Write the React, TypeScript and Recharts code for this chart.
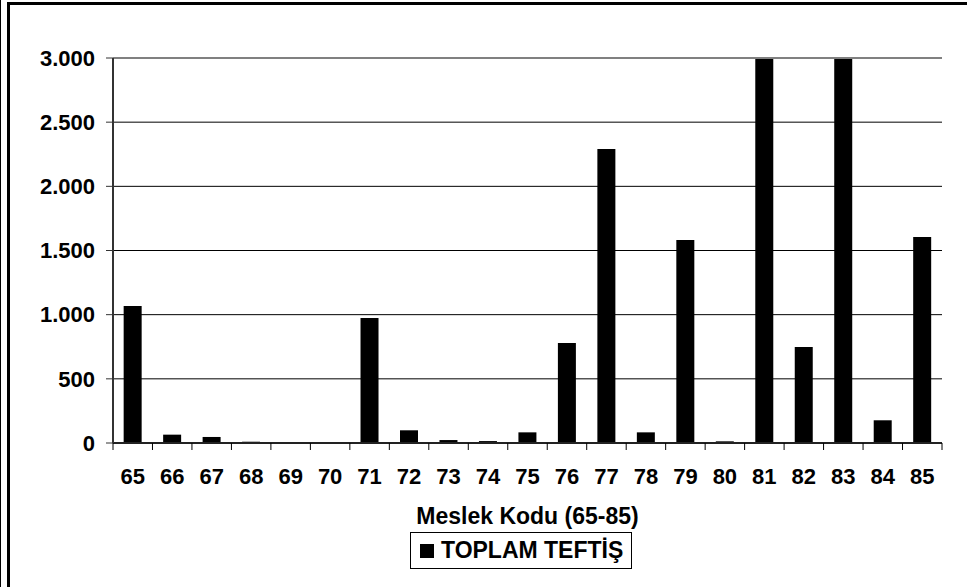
import React from 'react';
import { BarChart, Bar, XAxis, YAxis, CartesianGrid, ReferenceLine } from 'recharts';

// --- data ---
const kodlar = ['65', '66', '67', '68', '69', '70', '71', '72', '73', '74', '75', '76', '77', '78', '79', '80', '81', '82', '83', '84', '85'];
const toplamTeftis = [1067, 65, 47, 10, 0, 0, 974, 99, 23, 15, 83, 780, 2290, 83, 1582, 13, 3050, 748, 3050, 177, 1605];
const yTicks = [0, 500, 1000, 1500, 2000, 2500, 3000];

const data = kodlar.map((kod, i) => ({ kod, toplam: toplamTeftis[i] }));

const W = 967;
const H = 587;
const M = { top: 58, right: 25, left: 13, bottom: 54 };
const Y_W = 100;
const PLOT_W = W - M.left - Y_W - M.right;
const BAND = PLOT_W / kodlar.length;
const FONT = '"Liberation Sans", Arial, sans-serif';

const fmt = (v: number) => v.toLocaleString('de-DE');

// tick marks sit between categories, like the Excel original
const XTick = (props: any) => {
  const { x, y, payload, index } = props;
  const left = x - BAND / 2;
  return (
    <g>
      <line x1={left} x2={left} y1={y} y2={y + 7} stroke="#000" />
      {index === kodlar.length - 1 && (
        <line x1={x + BAND / 2} x2={x + BAND / 2} y1={y} y2={y + 7} stroke="#000" />
      )}
      <text x={x} y={y + 41} textAnchor="middle" fill="#000" fontSize={22} fontWeight="bold" fontFamily={FONT}>
        {payload.value}
      </text>
    </g>
  );
};

export default function App() {
  return (
    <div style={{ position: 'absolute', left: 0, top: 0, width: W, height: H, background: '#fff', fontFamily: FONT }}>
      {/* frame */}
      <div style={{ position: 'absolute', left: 0, top: 0, width: 1, height: H, background: '#000' }} />
      <div style={{ position: 'absolute', left: 7, top: 2, width: W - 7, height: 3, background: '#000' }} />
      <div style={{ position: 'absolute', left: 7, top: 2, width: 3, height: H - 2, background: '#000' }} />

      <BarChart width={W} height={H} data={data} margin={M} barCategoryGap="27%">
        <CartesianGrid horizontal vertical={false} stroke="#000" strokeWidth={1} />
        <XAxis
          dataKey="kod"
          height={90}
          interval={0}
          tickLine={false}
          tickSize={0}
          tickMargin={0}
          axisLine={{ stroke: '#222', strokeWidth: 2 }}
          tick={<XTick />}
          label={{ value: 'Meslek Kodu (65-85)', position: 'insideBottom', offset: 9, fill: '#000', fontSize: 23, fontWeight: 'bold', fontFamily: FONT }}
        />
        <YAxis
          width={Y_W}
          domain={[0, 3000]}
          ticks={yTicks}
          allowDataOverflow
          tickFormatter={fmt}
          tickSize={7}
          tickMargin={11}
          axisLine={{ stroke: '#333', strokeWidth: 2 }}
          tickLine={{ stroke: '#333' }}
          tick={{ fill: '#000', fontSize: 22, fontWeight: 'bold', fontFamily: FONT }}
        />
        <YAxis yAxisId="right" orientation="right" width={0} tick={false} tickLine={false} axisLine={{ stroke: '#808080', strokeWidth: 2 }} />
        <ReferenceLine y={3000} stroke="#808080" strokeWidth={2} />
        <Bar dataKey="toplam" name="TOPLAM TEFTİŞ" fill="#000" isAnimationActive={false} />
      </BarChart>

      {/* legend */}
      <div
        style={{
          position: 'absolute', left: 410, top: 532, width: 220, height: 35,
          border: '1px solid #000', boxSizing: 'content-box',
          display: 'flex', alignItems: 'center',
        }}
      >
        <div style={{ width: 14, height: 14, background: '#000', marginLeft: 9, marginRight: 7 }} />
        <span style={{ fontSize: 23, fontWeight: 'bold', color: '#000', whiteSpace: 'nowrap' }}>TOPLAM TEFTİŞ</span>
      </div>
    </div>
  );
}
